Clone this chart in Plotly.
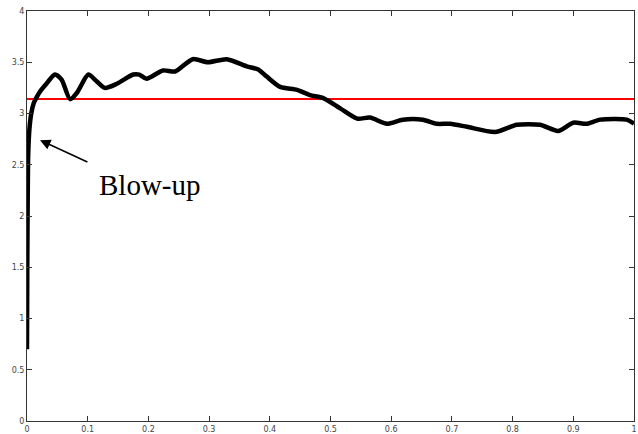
import plotly.graph_objects as go
import math

# Curve data
x_vals = [0.000, 0.0005, 0.0012, 0.002, 0.004, 0.007, 0.011, 0.016, 0.021, 0.032,
          0.046, 0.057, 0.071, 0.082, 0.101, 0.112, 0.128, 0.148, 0.175, 0.185,
          0.197, 0.224, 0.244, 0.273, 0.298, 0.329, 0.362, 0.381, 0.395, 0.417,
          0.445, 0.466, 0.488, 0.516, 0.544, 0.565, 0.593, 0.619, 0.652, 0.675,
          0.697, 0.725, 0.771, 0.807, 0.845, 0.875, 0.900, 0.922, 0.944, 0.988, 1.000]
y_vals = [0.70, 1.55, 2.20, 2.60, 2.85, 3.00, 3.10, 3.16, 3.21, 3.29,
          3.38, 3.33, 3.14, 3.20, 3.38, 3.33, 3.25, 3.29, 3.38, 3.38,
          3.34, 3.42, 3.41, 3.53, 3.50, 3.53, 3.46, 3.43, 3.36, 3.26,
          3.23, 3.18, 3.15, 3.05, 2.95, 2.96, 2.90, 2.94, 2.94, 2.90,
          2.90, 2.87, 2.82, 2.89, 2.89, 2.83, 2.91, 2.90, 2.94, 2.94, 2.90]

ref_x = [0, 1]
ref_y = [math.pi, math.pi]

x_ticks = [0, 0.1, 0.2, 0.3, 0.4, 0.5, 0.6, 0.7, 0.8, 0.9, 1]
x_ticklabels = ["0", "0.1", "0.2", "0.3", "0.4", "0.5", "0.6", "0.7", "0.8", "0.9", "1"]
y_ticks = [0, 0.5, 1, 1.5, 2, 2.5, 3, 3.5, 4]
y_ticklabels = ["0", "0.5", "1", "1.5", "2", "2.5", "3", "3.5", "4"]

annot_text = "Blow-up"
arrow_head = (0.0214, 2.74)
arrow_tail = (0.102, 2.52)
text_pos = (0.115, 2.30)

fig = go.Figure()
fig.add_trace(go.Scatter(x=ref_x, y=ref_y, mode="lines",
                         line=dict(color="#ff0000", width=2), showlegend=False))
fig.add_trace(go.Scatter(x=x_vals, y=y_vals, mode="lines",
                         line=dict(color="black", width=4.5, shape="spline", smoothing=0.7),
                         showlegend=False))

axis_common = dict(showline=True, linecolor="#333333", linewidth=1, mirror="allticks",
                   ticks="inside", ticklen=5, tickwidth=1, tickcolor="#333333",
                   showgrid=False, zeroline=False, automargin=False,
                   tickfont=dict(family="DejaVu Sans", size=8, color="#444444"))

fig.update_xaxes(range=[0, 1], tickvals=x_ticks, ticktext=x_ticklabels, **axis_common)
fig.update_yaxes(range=[0, 4], tickvals=y_ticks, ticktext=y_ticklabels, **axis_common)

fig.add_annotation(x=arrow_head[0], y=arrow_head[1], ax=arrow_tail[0], ay=arrow_tail[1],
                   axref="x", ayref="y", xref="x", yref="y", text="",
                   showarrow=True, arrowhead=2, arrowsize=1.4, arrowwidth=1.5, arrowcolor="black")
fig.add_annotation(x=text_pos[0], y=text_pos[1], xref="x", yref="y", text=annot_text,
                   showarrow=False, xanchor="left", yanchor="middle",
                   font=dict(family="Liberation Serif", size=29, color="black"))

fig.update_layout(width=638, height=434, margin=dict(l=27, r=4, t=11, b=13),
                  paper_bgcolor="white", plot_bgcolor="white")

# remove the page's default 8px body margin so the figure fills the window
fig.write_html("out.html", config={"displayModeBar": False},
               post_script="document.body.style.margin='0px';")
